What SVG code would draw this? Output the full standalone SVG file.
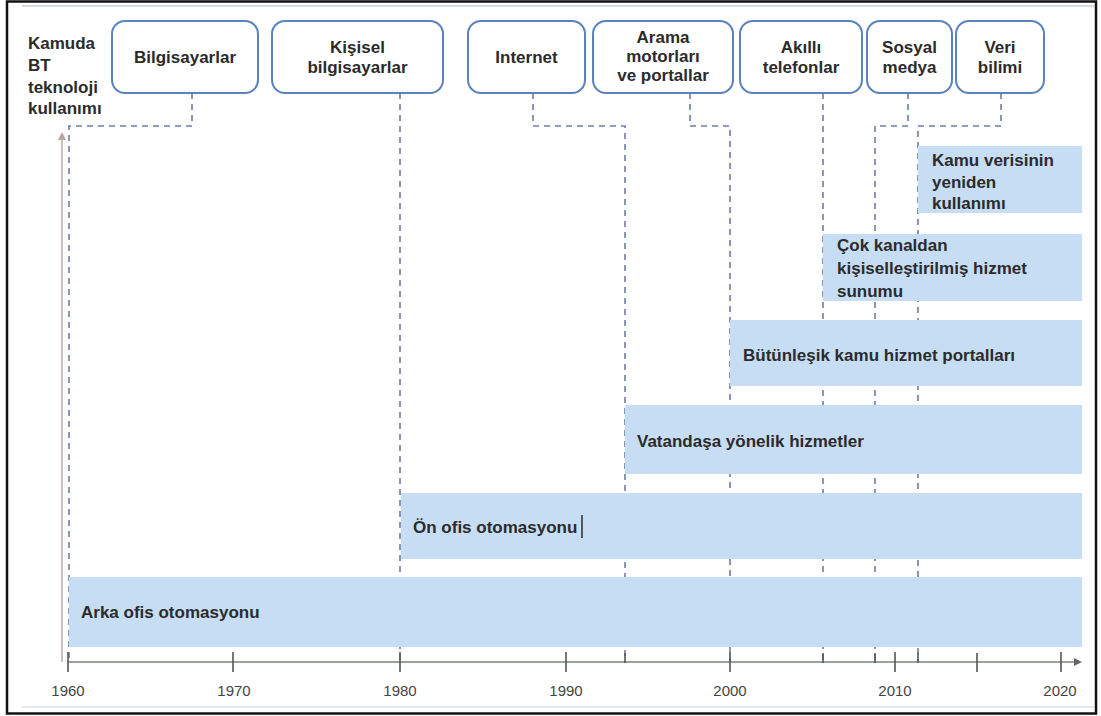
<svg xmlns="http://www.w3.org/2000/svg" width="1101" height="716" viewBox="0 0 1101 716">
<style>
.t{font-family:"Liberation Sans",Arial,sans-serif;font-size:17px;font-weight:bold;fill:#2b2b2b}
.c{text-anchor:middle}
.yr{font-family:"Liberation Sans",Arial,sans-serif;font-size:15px;fill:#444;text-anchor:middle}
.box{fill:#fff;stroke:#5b82c0;stroke-width:2}
.bar{fill:#c7ddf4}
.dash{fill:none;stroke:#6b7ea6;stroke-width:1.6;stroke-dasharray:6 5}
.tick{stroke:#555;stroke-width:1.6}
</style>
<defs>
<marker id="ah" markerWidth="8" markerHeight="8" refX="6" refY="4" orient="auto" markerUnits="userSpaceOnUse">
<path d="M0,0 L8,4 L0,8 z" fill="#666"/>
</marker>
<marker id="ahy" markerWidth="8" markerHeight="8" refX="6" refY="4" orient="auto" markerUnits="userSpaceOnUse">
<path d="M0,0 L8,4 L0,8 z" fill="#b9a3a3"/>
</marker>
</defs>
<rect x="0" y="0" width="1101" height="716" fill="#fff"/>
<rect x="7" y="1.5" width="1089" height="712" fill="none" stroke="#111" stroke-width="2.5"/>
<line x1="22" y1="6" x2="1094" y2="6" stroke="#d6dbe3" stroke-width="2"/>
<line x1="22" y1="707" x2="1094" y2="707" stroke="#e3e9f2" stroke-width="2"/>

<g id="ylabel">
<text class="t" x="28" y="49">Kamuda</text>
<text class="t" x="28" y="71">BT</text>
<text class="t" x="28" y="93">teknoloji</text>
<text class="t" x="28" y="114">kullanımı</text>
</g>

<g id="connectors">
<line x1="62" y1="662" x2="62" y2="134" stroke="#bfa9a9" stroke-width="1.5" marker-end="url(#ahy)"/>
<path class="dash" d="M192,93 V126 H69 V662"/>
<path class="dash" d="M400,93 V662"/>
<path class="dash" d="M533,93 V126 H625 V662"/>
<path class="dash" d="M690,93 V126 H730 V662"/>
<path class="dash" d="M823,93 V662"/>
<path class="dash" d="M908,93 V126 H875 V662"/>
<path class="dash" d="M1001,93 V126 H918 V662"/>
</g>

<g id="bar-arka">
<rect class="bar" x="69" y="577" width="1013" height="70"/>
<text class="t" x="81" y="618">Arka ofis otomasyonu</text>
</g>
<g id="bar-on">
<rect class="bar" x="401" y="493" width="681" height="66"/>
<text class="t" x="413" y="533">Ön ofis otomasyonu</text>
<line x1="582" y1="515" x2="582" y2="538" stroke="#2b2b2b" stroke-width="1.5"/>
</g>
<g id="bar-vatandasa">
<rect class="bar" x="625" y="405" width="457" height="69"/>
<text class="t" x="637" y="447">Vatandaşa yönelik hizmetler</text>
</g>
<g id="bar-butunlesik">
<rect class="bar" x="730" y="320" width="352" height="66"/>
<text class="t" x="743" y="361">Bütünleşik kamu hizmet portalları</text>
</g>
<g id="bar-cok">
<rect class="bar" x="823" y="234" width="259" height="67"/>
<text class="t" x="837" y="251">Çok kanaldan</text>
<text class="t" x="837" y="274">kişiselleştirilmiş hizmet</text>
<text class="t" x="837" y="297">sunumu</text>
</g>
<g id="bar-kamu">
<rect class="bar" x="918" y="146" width="164" height="67"/>
<text class="t" x="932" y="166">Kamu verisinin</text>
<text class="t" x="932" y="188">yeniden</text>
<text class="t" x="932" y="209">kullanımı</text>
</g>

<g id="box-bilgisayarlar">
<rect class="box" x="112" y="21" width="146" height="72" rx="13"/>
<text class="t c" x="185" y="63">Bilgisayarlar</text>
</g>
<g id="box-kisisel">
<rect class="box" x="272" y="21" width="171" height="72" rx="13"/>
<text class="t c" x="357.5" y="53">Kişisel</text>
<text class="t c" x="357.5" y="73">bilgisayarlar</text>
</g>
<g id="box-internet">
<rect class="box" x="468" y="21" width="117" height="72" rx="13"/>
<text class="t c" x="526.5" y="63">Internet</text>
</g>
<g id="box-arama">
<rect class="box" x="593" y="21" width="140" height="72" rx="13"/>
<text class="t c" x="663" y="43">Arama</text>
<text class="t c" x="663" y="62">motorları</text>
<text class="t c" x="663" y="81">ve portallar</text>
</g>
<g id="box-akilli">
<rect class="box" x="740" y="21" width="122" height="72" rx="13"/>
<text class="t c" x="801" y="53">Akıllı</text>
<text class="t c" x="801" y="73">telefonlar</text>
</g>
<g id="box-sosyal">
<rect class="box" x="867" y="21" width="85" height="72" rx="13"/>
<text class="t c" x="909.5" y="53">Sosyal</text>
<text class="t c" x="909.5" y="73">medya</text>
</g>
<g id="box-veri">
<rect class="box" x="956" y="21" width="88" height="72" rx="13"/>
<text class="t c" x="1000" y="53">Veri</text>
<text class="t c" x="1000" y="73">bilimi</text>
</g>

<g id="xaxis">
<line x1="68" y1="662" x2="1080" y2="662" stroke="#9aa39a" stroke-width="2" marker-end="url(#ah)"/>
<line class="tick" x1="68" y1="652" x2="68" y2="672" stroke="#4a6fb0"/>
<line class="tick" x1="233" y1="652" x2="233" y2="672"/>
<line class="tick" x1="400" y1="652" x2="400" y2="672"/>
<line class="tick" x1="566" y1="652" x2="566" y2="672"/>
<line class="tick" x1="730" y1="652" x2="730" y2="672"/>
<line class="tick" x1="895" y1="652" x2="895" y2="672"/>
<line class="tick" x1="1061" y1="652" x2="1061" y2="672"/>
<line class="tick" x1="625" y1="653" x2="625" y2="663"/>
<line class="tick" x1="823" y1="653" x2="823" y2="663"/>
<line class="tick" x1="875" y1="653" x2="875" y2="663"/>
<line class="tick" x1="918" y1="653" x2="918" y2="663"/>
<line class="tick" x1="977" y1="653" x2="977" y2="672"/>
<text class="yr" x="68" y="696">1960</text>
<text class="yr" x="234" y="696">1970</text>
<text class="yr" x="400" y="696">1980</text>
<text class="yr" x="566" y="696">1990</text>
<text class="yr" x="730" y="696">2000</text>
<text class="yr" x="895" y="696">2010</text>
<text class="yr" x="1060" y="696">2020</text>
</g>
</svg>
